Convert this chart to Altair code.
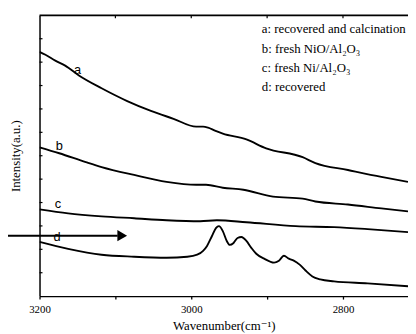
import altair as alt
import pandas as pd

# ---- data (wavenumber cm-1, intensity a.u.) ----
wn_a = [3200, 3192.2, 3179.2, 3166.2, 3148.1, 3118.2, 3084.4, 3053.2, 3023.4, 2993.5,
        2984.4, 2977.9, 2968.8, 2958.4, 2927.3, 2901.3, 2853.2, 2836.4, 2793.5, 2749.4, 2714.3]
int_a = [248, 245, 239, 234, 224, 211, 198, 188, 180, 172,
         172, 171, 168, 165, 159, 150, 141, 135, 128, 121, 116]

wn_b = [3200, 3174.0, 3139.0, 3118.2, 3075.3, 3032.5, 2993.5, 2980.5, 2958.4, 2931.2,
        2892.2, 2853.2, 2836.4, 2793.5, 2749.4, 2714.3]
int_b = [151, 145, 136, 131, 123, 116, 113, 113, 110, 108,
         101, 99, 96, 93, 89, 86]

wn_c = [3200, 3162.3, 3118.2, 3075.3, 3032.5, 2988.3, 2966.2, 2927.3, 2862.3, 2811.7, 2767.5, 2714.3]
int_c = [88, 84, 81, 79, 77, 76, 77, 75, 71, 70, 68, 65]

wn_d = [3200, 3162.3, 3118.2, 3075.3, 3032.5, 3005.2, 2992.2, 2984.4, 2979.2, 2972.7,
        2967.5, 2963.6, 2958.4, 2953.2, 2949.3, 2944.2, 2939.0, 2933.8, 2927.3, 2920.8,
        2914.3, 2903.9, 2890.9, 2884.4, 2877.9, 2871.4, 2864.9, 2857.1, 2849.4, 2840.3,
        2829.9, 2811.7, 2767.5, 2714.3]
int_d = [55, 48, 42, 40, 39, 40, 42, 46, 51, 61,
         69, 71, 66, 56, 52, 54, 59, 60, 56, 49,
         43, 38, 34, 36, 41, 38, 36, 32, 26, 20,
         17, 15, 13, 10]

series_names = ["a", "b", "c", "d"]

# curve labels
label_text = ["a", "b", "c", "d"]
label_wn = [3149.7, 3174.0, 3175.7, 3177.0]
label_int = [229.7, 152.0, 93.0, 59.7]

# legend text
legend_text = ["a: recovered and calcination",
               "b: fresh NiO/Al\u2082O\u2083",
               "c: fresh Ni/Al\u2082O\u2083",
               "d: recovered"]
legend_wn = [2907.0, 2907.0, 2907.0, 2907.0]
legend_int = [271, 251, 231, 212]

# axis ticks
x_tick_values = [3200, 3100, 3000, 2900, 2800]
top_tick_values = [3100, 3000, 2900, 2800]
y_tick_values = [23.75, 47.5, 71.25, 95, 118.75, 142.5, 166.25, 190, 213.75, 237.5, 261.25]

# arrow annotation
arrow_wn = [3252.0]
arrow_wn2 = [3097.0]
arrow_head_wn = [3091.0]
arrow_int = [61.3]

W, H = 374, 285
SERIF = "'Liberation Serif', 'Times New Roman', Times, 'DejaVu Serif', serif"
SANS = "'Liberation Sans', Arial, Helvetica, sans-serif"

rows = []
for name, xs, ys in zip(series_names, [wn_a, wn_b, wn_c, wn_d], [int_a, int_b, int_c, int_d]):
    for x, y in zip(xs, ys):
        rows.append({"series": name, "wn": x, "inten": y})
lines_df = pd.DataFrame(rows)

xscale = alt.Scale(domain=[3200, 2714.3], nice=False, zero=False)
yscale = alt.Scale(domain=[0, 285], nice=False, zero=False)

x_enc = alt.X("wn:Q", scale=xscale,
              axis=alt.Axis(title="Wavenumber(cm\u207b\u00b9)", values=x_tick_values,
                            format="d", labelFlush=False, labelOverlap=False,
                            labelExpr="datum.value % 200 == 0 ? datum.label : ''",
                            tickSize=3, tickWidth=1.3, tickColor="black",
                            domainColor="black", domainWidth=1.5,
                            labelFont=SERIF, labelFontSize=11, labelColor="black",
                            labelPadding=5, titleFont=SERIF, titleFontSize=13,
                            titleFontWeight="normal", titleColor="black",
                            titlePadding=5, grid=False))
y_enc = alt.Y("inten:Q", scale=yscale,
              axis=alt.Axis(title="Intensity(a.u.)", ticks=False, labels=False,
                            domainColor="black", domainWidth=1.5,
                            titleFont=SERIF, titleFontSize=13, titleFontWeight="normal",
                            titleColor="black", titlePadding=17, grid=False))

lines = alt.Chart(lines_df).mark_line(
    color="black", strokeWidth=1.9, interpolate="monotone", clip=True
).encode(x=x_enc, y=y_enc, detail="series:N")

yt = alt.Chart(pd.DataFrame({"inten": y_tick_values})).mark_rule(
    color="black", strokeWidth=1.2
).encode(x=alt.value(0), x2=alt.value(3), y="inten:Q")

tt = alt.Chart(pd.DataFrame({"wn": top_tick_values})).mark_rule(
    color="black", strokeWidth=1.2
).encode(x="wn:Q", y=alt.value(0), y2=alt.value(3))

top = alt.Chart(pd.DataFrame({"k": [0]})).mark_rule(
    color="black", strokeWidth=1.8
).encode(x=alt.value(0), x2=alt.value(W), y=alt.value(0))

labels = alt.Chart(pd.DataFrame({"t": label_text, "wn": label_wn, "inten": label_int})).mark_text(
    font=SANS, fontSize=13, color="black", baseline="middle", align="center"
).encode(x="wn:Q", y="inten:Q", text="t:N")

legend = alt.Chart(pd.DataFrame({"t": legend_text, "wn": legend_wn, "inten": legend_int})).mark_text(
    font=SERIF, fontSize=13, color="black", baseline="middle", align="left", clip=False
).encode(x="wn:Q", y="inten:Q", text="t:N")

arrow = alt.Chart(pd.DataFrame({"wn": arrow_wn, "wn2": arrow_wn2, "inten": arrow_int})).mark_rule(
    color="black", strokeWidth=2, clip=False
).encode(x="wn:Q", x2="wn2:Q", y="inten:Q")

head = alt.Chart(pd.DataFrame({"wn": arrow_head_wn, "inten": arrow_int})).mark_point(
    shape="triangle-right", filled=True, size=130, color="black", opacity=1, clip=False
).encode(x="wn:Q", y="inten:Q")

chart = alt.layer(lines, yt, tt, top, labels, legend, arrow, head).properties(
    width=W, height=H,
    autosize=alt.AutoSizeParams(type="none"),
    padding={"left": 32, "top": 5, "right": 0, "bottom": 36},
).configure_view(stroke=None).configure_axis(grid=False)

chart.save("out.html", embed_options={"renderer": "svg", "actions": False})
